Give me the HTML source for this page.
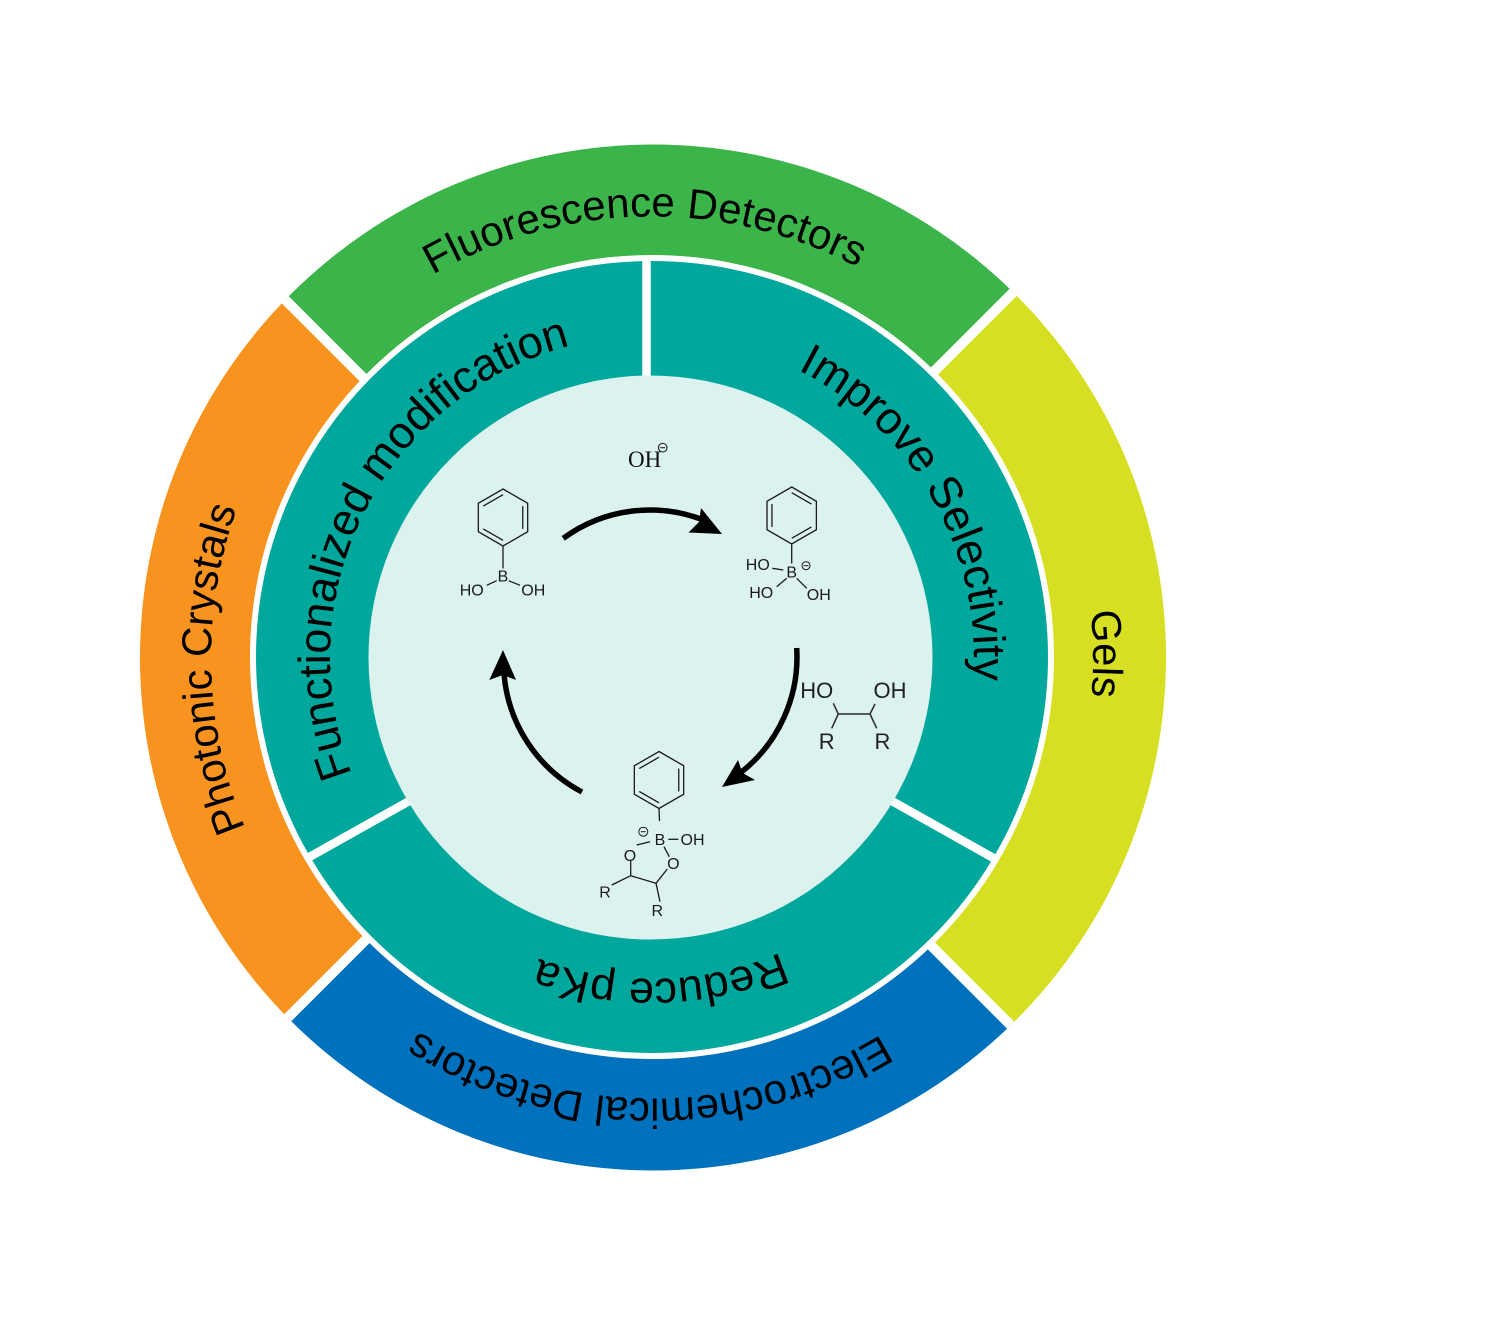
<!DOCTYPE html>
<html>
<head>
<meta charset="utf-8">
<style>
  html, body { margin: 0; padding: 0; background: #ffffff; width: 1500px; height: 1329px; overflow: hidden; }
  svg { display: block; position: absolute; left: 0; top: 0; }
</style>
</head>
<body>
<svg xmlns="http://www.w3.org/2000/svg" width="1500" height="1329" viewBox="0 0 1500 1329">
  <rect x="0" y="0" width="1500" height="1329" fill="#ffffff"/>
  <defs>
    <clipPath id="outerClip"><circle cx="653" cy="657.5" r="513"/></clipPath>
    <clipPath id="tealClip"><circle cx="652" cy="657" r="400"/></clipPath>
    <path id="pFluo" d="M 216.4 588.5 A 441 441 0 0 1 1084.9 573.4" fill="none"/>
    <path id="pGels" d="M 724.8 222.5 A 441 441 0 0 1 732.4 1091.1" fill="none"/>
    <path id="pElec" d="M 1085.8 737.1 A 441 441 0 0 1 217.2 731.0" fill="none"/>
    <path id="pPhot" d="M 586.8 1093.7 A 441 441 0 0 1 564.1 225.4" fill="none"/>
    <path id="pFunc" d="M 458.2 914.2 A 322 322 0 0 1 746.1 349.1" fill="none"/>
    <path id="pImpr" d="M 544.5 353.5 A 322 322 0 0 1 856.8 905.5" fill="none"/>
    <path id="pRedu" d="M 970.5 704.6 A 322 322 0 0 1 336.5 721.2" fill="none"/>
  </defs>

  <!-- Outer ring segments -->
  <g clip-path="url(#outerClip)">
    <polygon points="645.5,660 85.5,100 1205.5,100" fill="#3bb44a"/>
    <polygon points="645.5,660 85.5,100 85.5,1220" fill="#f7931e"/>
    <polygon points="645.5,660 85.5,1220 1205.5,1220" fill="#0071bc"/>
    <polygon points="645.5,660 1205.5,100 1205.5,1220" fill="#d7df23"/>
    <line x1="85.5" y1="100" x2="1205.5" y2="1220" stroke="#ffffff" stroke-width="10"/>
    <line x1="1205.5" y1="100" x2="85.5" y2="1220" stroke="#ffffff" stroke-width="10"/>
  </g>

  <!-- Teal ring -->
  <circle cx="652" cy="657" r="402" fill="#ffffff"/>
  <circle cx="652" cy="657" r="396" fill="#00a79d"/>
  <g clip-path="url(#tealClip)" stroke="#ffffff" stroke-width="8.5">
    <line x1="646.5" y1="250" x2="646.5" y2="420"/>
    <line x1="450" y1="778.1" x2="280" y2="873.5"/>
    <line x1="851" y1="778.1" x2="1021" y2="873.5"/>
  </g>

  <!-- Inner light circle -->
  <circle cx="650.5" cy="657.5" r="282" fill="#dcf2ef"/>

  <!-- Outer labels -->
  <g font-family="'Liberation Sans', Arial, sans-serif" font-size="42" fill="#000000" text-anchor="middle">
    <text><textPath href="#pFluo" startOffset="50%">Fluorescence Detectors</textPath></text>
    <text><textPath href="#pGels" startOffset="50%">Gels</textPath></text>
    <text><textPath href="#pElec" startOffset="50%">Electrochemical Detectors</textPath></text>
    <text><textPath href="#pPhot" startOffset="50%">Photonic Crystals</textPath></text>
  </g>

  <!-- Teal labels -->
  <g font-family="'Liberation Sans', Arial, sans-serif" font-size="45" fill="#000000" text-anchor="middle">
    <text><textPath href="#pFunc" startOffset="50%">Functionalized modification</textPath></text>
    <text><textPath href="#pImpr" startOffset="50%">Improve Selectivity</textPath></text>
    <text><textPath href="#pRedu" startOffset="50%">Reduce pKa</textPath></text>
  </g>

  <!-- Arrows -->
  <g fill="none" stroke="#000000" stroke-width="5.5">
    <path d="M 563.2 538.4 A 147 147 0 0 1 705.1 520.7"/>
    <path d="M 796.7 648 A 147 147 0 0 1 740.5 772.8"/>
    <path d="M 582 792 A 147 147 0 0 1 504.1 674.9"/>
  </g>
  <g fill="#000000">
    <polygon points="722,534 701,508 699,522 688.5,532.5"/>
    <polygon points="722,787 738,760 742.4,772.9 755,780"/>
    <polygon points="503,650 489.3,680 502.7,675 516,680"/>
  </g>

  <!-- OH- -->
  <text x="628" y="467" font-family="'Liberation Serif', 'Times New Roman', serif" font-size="23" fill="#111111">OH</text>
  <circle cx="662.7" cy="447.7" r="4.3" fill="none" stroke="#111111" stroke-width="1"/>
  <line x1="660.2" y1="447.7" x2="665.2" y2="447.7" stroke="#111111" stroke-width="1"/>

  <!-- Left structure: phenylboronic acid -->
  <g stroke="#1a1a1a" stroke-width="1.3" fill="none">
    <g transform="translate(503,517.5)">
      <polygon points="0,-28.5 24.68,-14.25 24.68,14.25 0,28.5 -24.68,14.25 -24.68,-14.25"/>
      <line x1="19.75" y1="-11.4" x2="19.75" y2="11.4"/>
      <line x1="-19.75" y1="-11.4" x2="0" y2="-22.8"/>
      <line x1="0" y1="22.8" x2="-19.75" y2="11.4"/>
      <line x1="0" y1="28.5" x2="0" y2="51"/>
    </g>
    <line x1="496.7" y1="580.7" x2="486.7" y2="585.3"/>
    <line x1="508.7" y1="580.7" x2="520" y2="585.3"/>
  </g>
  <g font-family="'Liberation Sans', Arial, sans-serif" font-size="16" fill="#1a1a1a" text-anchor="middle">
    <text x="503" y="581.5">B</text>
    <text x="471.7" y="595.3">HO</text>
    <text x="533.3" y="595.3">OH</text>
  </g>

  <!-- Right structure: boronate anion -->
  <g stroke="#1a1a1a" stroke-width="1.3" fill="none">
    <g transform="translate(791.7,515.5)">
      <polygon points="0,-28.5 24.68,-14.25 24.68,14.25 0,28.5 -24.68,14.25 -24.68,-14.25"/>
      <line x1="-19.75" y1="-11.4" x2="-19.75" y2="11.4"/>
      <line x1="0" y1="-22.8" x2="19.75" y2="-11.4"/>
      <line x1="19.75" y1="11.4" x2="0" y2="22.8"/>
      <line x1="0" y1="28.5" x2="0" y2="48"/>
    </g>
    <line x1="772.3" y1="568.3" x2="783.3" y2="570"/>
    <line x1="786.7" y1="578.3" x2="776.7" y2="586.7"/>
    <line x1="796.7" y1="578.3" x2="806.7" y2="588.3"/>
    <circle cx="806" cy="565.7" r="4" stroke-width="1"/>
    <line x1="803.6" y1="565.7" x2="808.4" y2="565.7" stroke-width="1"/>
  </g>
  <g font-family="'Liberation Sans', Arial, sans-serif" font-size="16" fill="#1a1a1a" text-anchor="middle">
    <text x="791.7" y="577.5">B</text>
    <text x="757.8" y="569.9">HO</text>
    <text x="761.2" y="597.9">HO</text>
    <text x="818.8" y="599.9">OH</text>
  </g>

  <!-- Diol -->
  <g stroke="#2a2a2a" stroke-width="1.5" fill="none">
    <line x1="833.3" y1="703.3" x2="838.3" y2="714"/>
    <line x1="838.3" y1="714" x2="870" y2="714"/>
    <line x1="870" y1="714" x2="875" y2="704"/>
    <line x1="838.3" y1="714" x2="831.7" y2="728.3"/>
    <line x1="870" y1="714" x2="876.7" y2="728.3"/>
  </g>
  <g font-family="'Liberation Sans', Arial, sans-serif" font-size="22" fill="#1f1f1f" text-anchor="middle">
    <text x="816.7" y="697.9">HO</text>
    <text x="890" y="697.9">OH</text>
    <text x="826.7" y="748.9">R</text>
    <text x="882.5" y="748.9">R</text>
  </g>

  <!-- Bottom structure: cyclic boronate ester -->
  <g stroke="#1a1a1a" stroke-width="1.3" fill="none">
    <g transform="translate(659,780)">
      <polygon points="0,-28.5 24.68,-14.25 24.68,14.25 0,28.5 -24.68,14.25 -24.68,-14.25"/>
      <line x1="19.75" y1="-11.4" x2="19.75" y2="11.4"/>
      <line x1="-19.75" y1="-11.4" x2="0" y2="-22.8"/>
      <line x1="0" y1="22.8" x2="-19.75" y2="11.4"/>
      <line x1="0" y1="28.5" x2="0.5" y2="41"/>
    </g>
    <line x1="668.3" y1="839.3" x2="678.3" y2="839.3"/>
    <line x1="636.7" y1="845" x2="650" y2="841.7"/>
    <line x1="664" y1="846.7" x2="669.3" y2="856.7"/>
    <line x1="630.7" y1="861" x2="630.7" y2="875.7"/>
    <line x1="630.7" y1="875.7" x2="656" y2="883.3"/>
    <line x1="656" y1="883.3" x2="667.3" y2="869"/>
    <line x1="630.7" y1="875.7" x2="611.7" y2="885"/>
    <line x1="656" y1="883.3" x2="660" y2="901.7"/>
    <circle cx="643.3" cy="831.7" r="4.5" stroke-width="1"/>
    <line x1="640.8" y1="831.7" x2="645.8" y2="831.7" stroke-width="1"/>
  </g>
  <g font-family="'Liberation Sans', Arial, sans-serif" font-size="16" fill="#1a1a1a" text-anchor="middle">
    <text x="660" y="845.2">B</text>
    <text x="692.5" y="845.2">OH</text>
    <text x="630" y="860.9">O</text>
    <text x="673.3" y="869.2">O</text>
    <text x="605" y="897.5">R</text>
    <text x="657.3" y="915.9">R</text>
  </g>
</svg>
</body>
</html>
